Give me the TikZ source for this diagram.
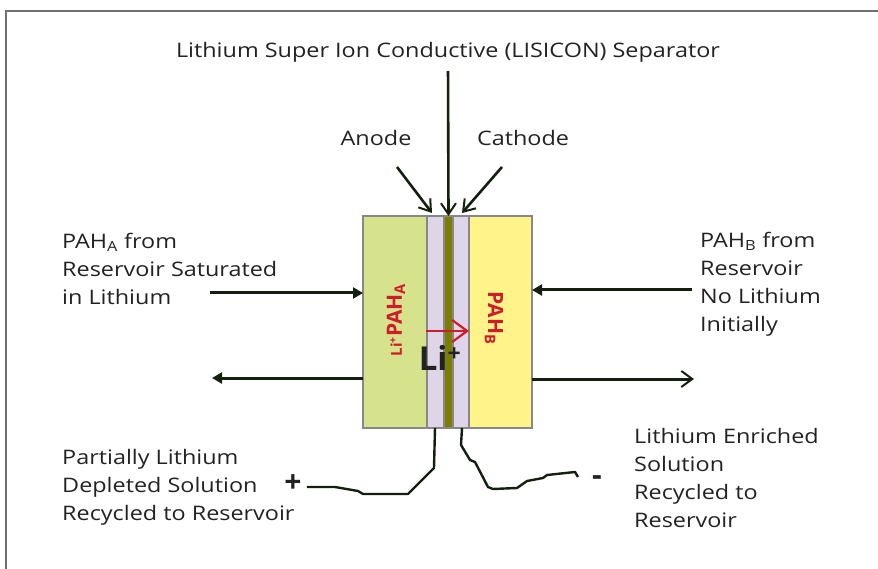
\documentclass[tikz,border=0pt]{standalone}
\usepackage{fontspec}
\setmainfont{Open Sans}[FakeStretch=1.17]
\newfontfamily\cellfont{Open Sans}
\usetikzlibrary{arrows.meta}
\definecolor{framegray}{HTML}{707070}
\definecolor{cellgreen}{HTML}{D6E28C}
\definecolor{celllilac}{HTML}{DED5E8}
\definecolor{cellolive}{HTML}{7B7D05}
\definecolor{cellyellow}{HTML}{FFF38A}
\definecolor{cellborder}{HTML}{888888}
\definecolor{lired}{HTML}{D01C2A}
\definecolor{darkline}{HTML}{14200F}
\definecolor{textgray}{HTML}{222222}
\tikzset{
  cellbox/.style={draw=cellborder, line width=1.3pt, inner sep=0pt, outer sep=0pt, anchor=north west, minimum height=212pt},
  lbl/.style={font=\fontsize{20}{28}\selectfont, text=textgray, inner sep=0pt, align=left},
  flow/.style={draw=darkline, line width=3pt, -{Triangle[length=10pt,width=11pt]}},
  flowopen/.style={draw=darkline, line width=3pt, -{Straight Barb[length=11pt,width=16pt,line width=2pt]}},
  pointer/.style={draw=darkline, line width=2.6pt, -{Straight Barb[length=11pt,width=15pt,line width=2pt]}},
  wire/.style={draw=darkline, line width=2.4pt, line join=round},
}
\begin{document}
\begin{tikzpicture}[x=1pt,y=-1pt]
\useasboundingbox (0,0) rectangle (878,569);
\draw[framegray, line width=2.2pt] (6,569) -- (6,11) -- (878,11);

% cell
\node[cellbox, fill=cellgreen, minimum width=64pt] (lcell) at (363,216) {};
\node[cellbox, fill=celllilac, minimum width=17pt] (lil1) at (427,216) {};
\node[cellbox, fill=cellolive, minimum width=9pt] (olive) at (444,216) {};
\node[cellbox, fill=celllilac, minimum width=16pt] (lil2) at (453,216) {};
\node[cellbox, fill=cellyellow, minimum width=63pt] (rcell) at (469,216) {};

\node[rotate=90, text=lired, font=\cellfont\bfseries, inner sep=0pt] (lipaha) at (396,320)
  {{\fontsize{15}{15}\selectfont Li\textsuperscript{+}}{\fontsize{21}{21}\selectfont PAH\textsubscript{A}}};
\node[rotate=-90, text=lired, font=\cellfont\bfseries, inner sep=0pt] (pahb) at (494,318)
  {\fontsize{21}{21}\selectfont PAH\textsubscript{B}};
\node[text=textgray, font=\cellfont\bfseries\fontsize{33}{33}\selectfont, inner sep=0pt] (liion) at (440,358) {Li\textsuperscript{+}};
\coordinate (redtail) at (426,331);
\draw[lired, line width=2.6pt, -{Straight Barb[length=15pt,width=22pt,line width=2.2pt]}] (redtail) -- (rcell.west |- redtail);

% title and pointers
\node[lbl, anchor=base] (title) at (448,58) {Lithium Super Ion Conductive (LISICON) Separator};
\draw[pointer, shorten <=8pt] (title.south) -- (olive.north);
\node[lbl, anchor=base] (anode) at (376,146) {Anode};
\node[lbl, anchor=base] (cathode) at (523,146) {Cathode};
\coordinate (anodetail) at (397,167);
\coordinate (cathodetail) at (502,167);
\coordinate (anodehead) at (432,213);
\coordinate (cathodehead) at (462,213);
\draw[pointer] (anodetail) -- (anodehead);
\draw[pointer] (cathodetail) -- (cathodehead);

% left texts and arrows
\node[lbl, anchor=north west] (ltext) at (62,233) {PAH\textsubscript{A} from\\Reservoir Saturated\\in Lithium};
\coordinate (lin) at (210,293);
\draw[flow] (lin) -- (lcell.west |- lin);
\coordinate (lout) at (212,378);
\draw[flow] (lcell.west |- lout) -- (lout);

% right texts and arrows
\node[lbl, anchor=north west] (rtext) at (700,232) {PAH\textsubscript{B} from\\Reservoir\\No Lithium\\Initially};
\coordinate (rin) at (692,290);
\draw[flow] (rin) -- (rcell.east |- rin);
\coordinate (rout) at (694,379);
\draw[flowopen] (rcell.east |- rout) -- (rout);

% bottom texts
\node[lbl, anchor=north west] (btext) at (62,449) {Partially Lithium\\Depleted Solution\\Recycled to Reservoir};
\node[lbl, anchor=north west] (brtext) at (634,428) {Lithium Enriched\\Solution\\Recycled to\\Reservoir};
\node[text=textgray, font=\cellfont\bfseries\fontsize{30}{30}\selectfont, inner sep=0pt] (plus) at (293,484) {+};
\node[text=textgray, font=\cellfont\bfseries\fontsize{30}{30}\selectfont, inner sep=0pt] (minus) at (597,481) {-};

% wires
\draw[wire] (plus.east) ++(5,3) -- (335,487) -- (358,491) -- (363,494) -- (408,494) -- (434,468) -- (435,428);
\draw[wire] (462,428) -- (461,445) -- (470,460) -- (475,462) -- (488,487) -- (493,489) -- (517,488) -- (527,481) -- (543,478) -- (547,475) -- (575,472) -- (578,477);
\end{tikzpicture}
\end{document}
